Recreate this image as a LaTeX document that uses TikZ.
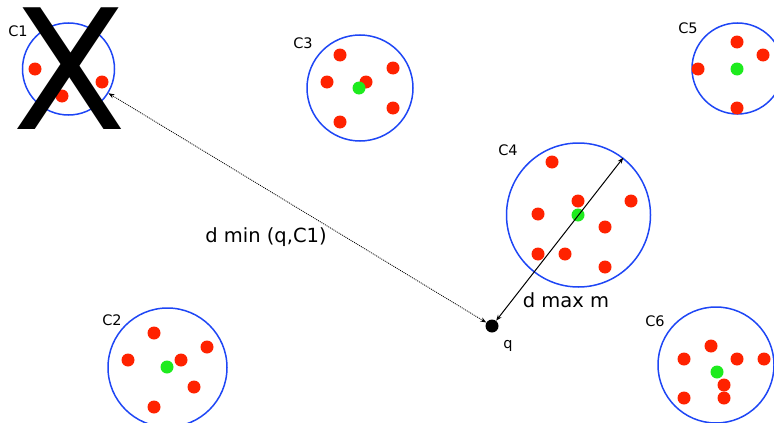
\documentclass[tikz,border=0pt]{standalone}
\usepackage{fontspec}
\setmainfont{DejaVu Sans}
\usetikzlibrary{arrows.meta}
\definecolor{cblue}{RGB}{30,70,245}
\definecolor{cred}{RGB}{255,34,0}
\definecolor{cgreen}{RGB}{30,235,30}
\begin{document}
\begin{tikzpicture}[x=1pt,y=-1pt,
  cluster/.style={circle,draw=cblue,line width=1.5pt,minimum size=#1,inner sep=0pt},
  reddot/.style={circle,fill=cred,minimum size=13pt,inner sep=0pt},
  greendot/.style={circle,fill=cgreen,minimum size=13pt,inner sep=0pt},
  clabel/.style={font=\fontsize{14.5}{14.5}\selectfont,inner sep=0pt},
  dlabel/.style={font=\fontsize{19.5}{19.5}\selectfont,inner sep=0pt},
  >={Stealth[length=6pt,width=4.5pt]}]
\useasboundingbox (0,0) rectangle (774,423);
% clusters
\node[cluster=92pt]  (C1) at (68.5,69) {};
\node[cluster=106pt] (C3) at (360,88) {};
\node[cluster=144pt] (C4) at (578.5,215) {};
\node[cluster=91pt]  (C5) at (737.5,68.5) {};
\node[cluster=119pt] (C2) at (167.5,367.5) {};
\node[cluster=116pt] (C6) at (716,365) {};
% labels
\node[clabel] (lC1) at (18,31) {C1};
\node[clabel] (lC2) at (112,320) {C2};
\node[clabel] (lC3) at (303,43) {C3};
\node[clabel] (lC4) at (508,150) {C4};
\node[clabel] (lC5) at (688,28) {C5};
\node[clabel] (lC6) at (655,321) {C6};
% C1 points
\foreach \p [count=\i] in {(35,69),(102,82),(62,96)} \node[reddot] (C1r\i) at \p {};
% C3 points
\foreach \p [count=\i] in {(340,55),(393,68),(327,82),(366,82),(393,108),(340,122)} \node[reddot] (C3r\i) at \p {};
\node[greendot] (C3g) at (359,88) {};
% C4 points
\foreach \p [count=\i] in {(552,162),(578,201),(631,201),(538,214),(605,227),(538,254),(565,254),(605,267)} \node[reddot] (C4r\i) at \p {};
\node[greendot] (C4g) at (578,215) {};
% C5 points
\foreach \p [count=\i] in {(737,42),(763,55),(698,69),(737,108)} \node[reddot] (C5r\i) at \p {};
\node[greendot] (C5g) at (737,69) {};
% C2 points
\foreach \p [count=\i] in {(154,333),(207,347),(128,360),(181,360),(194,387),(154,407)} \node[reddot] (C2r\i) at \p {};
\node[greendot] (C2g) at (167,367) {};
% C6 points
\foreach \p [count=\i] in {(711,346),(684,359),(737,359),(764,359),(724,385),(684,398),(724,398)} \node[reddot] (C6r\i) at \p {};
\node[greendot] (C6g) at (717,372) {};
% big X
\node[inner sep=0pt,font=\fontsize{167}{167}\selectfont] (X) at (70,69) {X};
% query point
\node[circle,fill=black,minimum size=13pt,inner sep=0pt] (q) at (492,326) {};
\node[clabel] (lq) at (508,346) {q};
% connectors
\draw[<->,line width=0.8pt,dash pattern=on 1pt off 1pt] (q) -- (C1);
\draw[<->,line width=1pt] (q) -- (C4.52);
\node[dlabel] (dmin) at (266,237) {d min (q,C1)};
\node[dlabel] (dmax) at (566,300) {d max m};
\end{tikzpicture}
\end{document}
